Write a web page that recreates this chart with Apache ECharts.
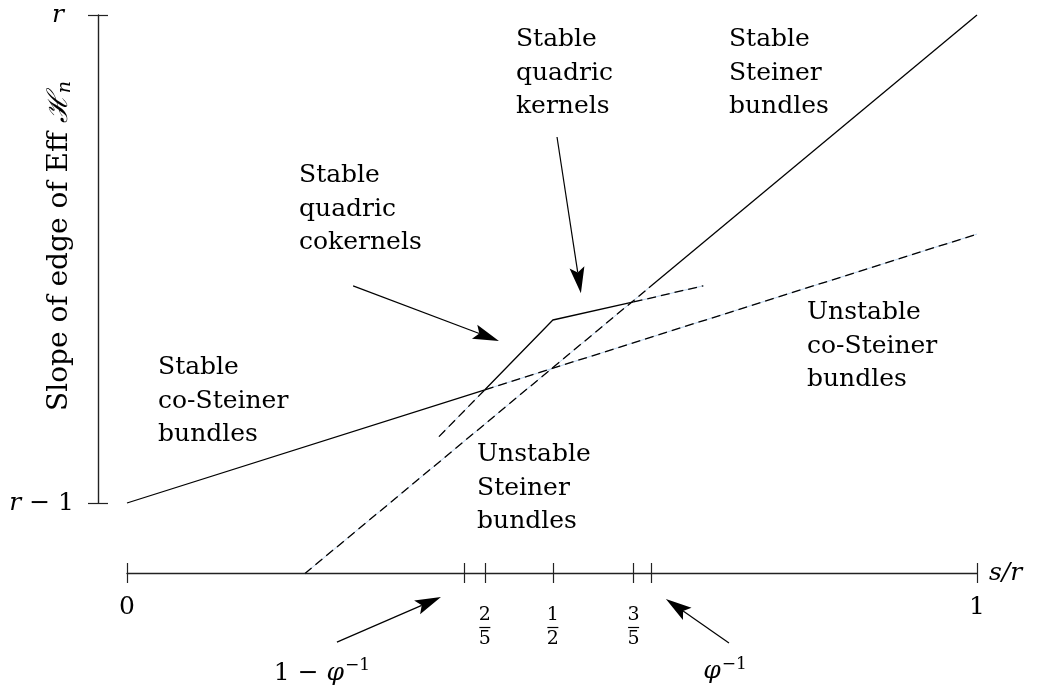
<!DOCTYPE html>
<html><head><meta charset="utf-8">
<script src="https://cdn.jsdelivr.net/npm/echarts@6/dist/echarts.min.js"></script>
<style>html,body{margin:0;padding:0;background:#fff}#c{width:1040px;height:694px}</style>
</head><body><div id="c"></div>
<script>
// ---- data (x = s/r, y = slope measured from r-1) ----
const stableBoundary     = [[0, 0], [0.421, 0.232], [0.501, 0.375], [0.596, 0.412]];
const steinerStable      = [[0.614, 0.441], [1, 1]];
const coSteinerUnstable  = [[0.421, 0.232], [1, 0.551]];
const steinerUnstable    = [[0.209, -0.145], [0.614, 0.441]];
const cokernelExtension  = [[0.367, 0.136], [0.421, 0.232]];
const kernelExtension    = [[0.596, 0.412], [0.678, 0.445]];
const xTickValues = [0, 0.397, 0.421, 0.501, 0.596, 0.617, 1];
const xTickLabels = ['0', '', '2/5', '1/2', '3/5', '', '1'];
const yTickValues = [0, 1];
const yTickLabels = ['r − 1', 'r'];
const regionNames = ['Stable\nquadric\nkernels', 'Stable\nSteiner\nbundles', 'Stable\nquadric\ncokernels',
                     'Stable\nco-Steiner\nbundles', 'Unstable\nco-Steiner\nbundles', 'Unstable\nSteiner\nbundles'];
const pointerNames = ['1 − φ⁻¹', 'φ⁻¹'];

// ---- layout (annotation anchors, not data) ----
const regionAnchors = [[0.4576, 0.9836], [0.7082, 0.9836], [0.2024, 0.7049], [0.0365, 0.3115], [0.80, 0.4242], [0.4118, 0.1332]];
const pointerAnchors = [[0.2294, -0.3484], [0.7035, -0.3463]];
const arrows = [
  [0.266, 0.445, 0.4376, 0.332],
  [0.5059, 0.75, 0.534, 0.430],
  [0.247, -0.285, 0.3694, -0.1926],
  [0.7082, -0.2869, 0.634, -0.1967]
];

const FONT = 'DejaVu Serif';
const INK = '#000';
function near(a, b) { return Math.abs(a - b) < 1e-6; }

function solid(data) {
  return { type: 'line', data, symbol: 'none', clip: false, silent: true, z: 5,
    lineStyle: { color: INK, width: 1.3 } };
}
function dashed(data) {
  return [
    { type: 'line', data, symbol: 'none', clip: false, silent: true, z: 3,
      lineStyle: { color: '#bcd5f0', width: 1 } },
    { type: 'line', data, symbol: 'none', clip: false, silent: true, z: 4,
      lineStyle: { color: INK, width: 1.3, type: [9, 5] } }
  ];
}

function renderArrow(params, api) {
  const a = api.coord([api.value(0), api.value(1)]);
  const b = api.coord([api.value(2), api.value(3)]);
  const dx = b[0] - a[0], dy = b[1] - a[1];
  const L = Math.hypot(dx, dy) || 1;
  const ux = dx / L, uy = dy / L, nx = -uy, ny = ux;
  const headLen = 26, halfW = 7.5, notch = 21;
  const left = [b[0] - ux * headLen + nx * halfW, b[1] - uy * headLen + ny * halfW];
  const right = [b[0] - ux * headLen - nx * halfW, b[1] - uy * headLen - ny * halfW];
  const mid = [b[0] - ux * notch, b[1] - uy * notch];
  return {
    type: 'group',
    children: [
      { type: 'line', shape: { x1: a[0], y1: a[1], x2: mid[0], y2: mid[1] },
        style: { stroke: INK, lineWidth: 1.2 } },
      { type: 'polygon', shape: { points: [b, left, mid, right] }, style: { fill: INK } }
    ]
  };
}

const fracRich = {
  sp: { fontSize: 1, lineHeight: 13 },
  n: { fontFamily: FONT, fontSize: 19, lineHeight: 19, color: INK },
  bar: { fontSize: 1, width: 11, height: 1.2, lineHeight: 5, backgroundColor: INK },
  d: { fontFamily: FONT, fontSize: 19, lineHeight: 19, color: INK },
  big: { fontFamily: FONT, fontSize: 25, lineHeight: 28, color: INK }
};

const chart = echarts.init(document.getElementById('c'), null, { renderer: 'canvas' });
const option = {
  animation: false,
  backgroundColor: '#fff',
  grid: { left: 127, right: 63, top: 15, bottom: 191, containLabel: false, outerBoundsMode: 'none' },
  xAxis: [
    {
      type: 'value', min: 0, max: 1, offset: 70, position: 'bottom',
      name: 's/r', nameLocation: 'end', nameGap: 12,
      nameTextStyle: { fontFamily: FONT, fontStyle: 'italic', fontSize: 25, color: INK, verticalAlign: 'middle' },
      axisLine: { show: true, onZero: false, lineStyle: { color: '#222', width: 1.4 } },
      axisTick: { show: true, inside: false, length: 10, customValues: xTickValues, lineStyle: { color: '#222', width: 1.2 } },
      axisLabel: {
        show: true, margin: 20, customValues: [0, 0.421, 0.501, 0.596, 1],
        formatter: function (v) {
          const i = xTickValues.findIndex(t => near(t, v));
          const s = i >= 0 ? xTickLabels[i] : '';
          if (s.indexOf('/') > 0) {
            const p = s.split('/');
            return '{sp| }\n{n|' + p[0] + '}\n{bar| }\n{d|' + p[1] + '}';
          }
          return '{big|' + s + '}';
        },
        rich: fracRich
      },
      splitLine: { show: false }
    },
    {
      type: 'value', min: 0, max: 1, offset: 70, position: 'bottom',
      axisLine: { show: false, onZero: false },
      axisTick: { show: true, inside: true, length: 10, customValues: xTickValues, lineStyle: { color: '#222', width: 1.2 } },
      axisLabel: { show: false }, splitLine: { show: false }
    }
  ],
  yAxis: [
    {
      type: 'value', min: 0, max: 1, offset: 29, position: 'left',
      name: 'Slope of edge of Eff {h|ℋ}{sub|n}', nameLocation: 'middle', nameGap: 23,
      nameMoveOverlap: false,
      nameTextStyle: {
        fontFamily: FONT, fontSize: 28, color: INK, padding: [0, 0, 0, 26],
        rich: {
          h: { fontFamily: FONT, fontSize: 28, fontStyle: 'italic', color: INK },
          sub: { fontFamily: FONT, fontSize: 19, fontStyle: 'italic', color: INK, padding: [12, 0, 0, 0] }
        }
      },
      axisLine: { show: true, onZero: false, lineStyle: { color: '#222', width: 1.4 } },
      axisTick: { show: true, inside: false, length: 10, customValues: yTickValues, lineStyle: { color: '#222', width: 1.2 } },
      axisLabel: {
        show: true, margin: 24, customValues: yTickValues,
        formatter: function (v) {
          const i = yTickValues.findIndex(t => near(t, v));
          const s = i >= 0 ? yTickLabels[i] : '';
          if (s === 'r') return '{ri|r}';
          return '{i|r}{t|' + s.slice(1) + '}';
        },
        rich: {
          i: { fontFamily: FONT, fontStyle: 'italic', fontSize: 25, color: INK },
          ri: { fontFamily: FONT, fontStyle: 'italic', fontSize: 25, color: INK, padding: [0, 10, 0, 0] },
          t: { fontFamily: FONT, fontSize: 25, color: INK }
        }
      },
      splitLine: { show: false }
    },
    {
      type: 'value', min: 0, max: 1, offset: 29, position: 'left',
      axisLine: { show: false, onZero: false },
      axisTick: { show: true, inside: true, length: 10, customValues: yTickValues, lineStyle: { color: '#222', width: 1.2 } },
      axisLabel: { show: false }, splitLine: { show: false }
    }
  ],
  series: [
    solid(stableBoundary),
    solid(steinerStable),
    ...dashed(coSteinerUnstable),
    ...dashed(steinerUnstable),
    ...dashed(cokernelExtension),
    ...dashed(kernelExtension),
    {
      type: 'scatter', clip: false, silent: true, symbolSize: 0, z: 6,
      itemStyle: { color: INK },
      data: regionAnchors.map((p, i) => ({ value: p, name: regionNames[i] })),
      label: {
        show: true, position: [0, 0], align: 'left', verticalAlign: 'top',
        formatter: p => p.name, opacity: 1,
        fontFamily: FONT, fontSize: 25, lineHeight: 33.5, color: INK
      }
    },
    {
      type: 'scatter', clip: false, silent: true, symbolSize: 0, z: 6,
      itemStyle: { color: INK },
      data: pointerAnchors.map((p, i) => ({ value: p, name: pointerNames[i] })),
      label: {
        show: true, position: 'inside', align: 'center', verticalAlign: 'middle', opacity: 1,
        formatter: function (p) {
          return p.dataIndex === 0 ? '{a|1 − }{f|φ}{s|−1}' : '{f|φ}{s|−1}';
        },
        rich: {
          a: { fontFamily: FONT, fontSize: 25, color: INK },
          f: { fontFamily: FONT, fontSize: 25, fontStyle: 'italic', color: INK },
          s: { fontFamily: FONT, fontSize: 17, color: INK, padding: [0, 0, 14, 1] }
        }
      }
    },
    {
      type: 'custom', clip: false, silent: true, z: 7,
      renderItem: renderArrow,
      data: arrows
    }
  ]
};
chart.setOption(option);
</script>
</body></html>
